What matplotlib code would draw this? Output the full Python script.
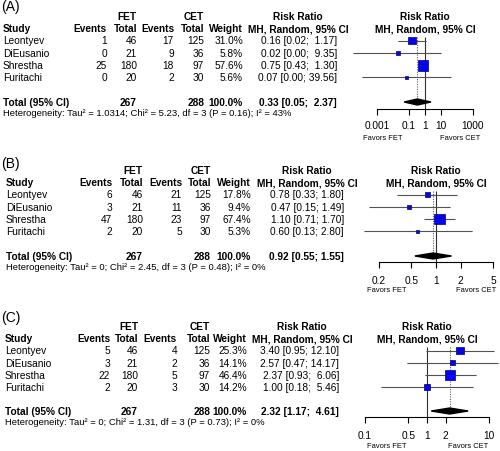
import numpy as np
import matplotlib
matplotlib.use("Agg")
import matplotlib.pyplot as plt
from matplotlib.ticker import NullLocator

plt.rcParams['font.family'] = ['Liberation Sans', 'DejaVu Sans']

# data
studies = ["Leontyev", "DiEusanio", "Shrestha", "Furitachi"]
fet_total = [46, 21, 180, 20]
cet_total = [125, 36, 97, 30]
sum_fet, sum_cet = 267, 288

fet_events_a = [1, 0, 25, 0]
cet_events_a = [17, 9, 18, 2]
weight_a = [31.0, 5.8, 57.6, 5.6]
rr_a = [0.16, 0.02, 0.75, 0.07]
lo_a = [0.02, 0.00003, 0.43, 0.00012]
hi_a = [1.17, 9.35, 1.30, 39.56]
pooled_a = [0.33, 0.05, 2.37]
het_a = "Heterogeneity: Tau² = 1.0314; Chi² = 5.23, df = 3 (P = 0.16); I² = 43%"

fet_events_b = [6, 3, 47, 2]
cet_events_b = [21, 11, 23, 5]
weight_b = [17.8, 9.4, 67.4, 5.3]
rr_b = [0.78, 0.47, 1.10, 0.60]
lo_b = [0.33, 0.15, 0.71, 0.13]
hi_b = [1.80, 1.49, 1.70, 2.80]
pooled_b = [0.92, 0.55, 1.55]
het_b = "Heterogeneity: Tau² = 0; Chi² = 2.45, df = 3 (P = 0.48); I² = 0%"

fet_events_c = [5, 3, 22, 2]
cet_events_c = [4, 2, 5, 3]
weight_c = [25.3, 14.1, 46.4, 14.2]
rr_c = [3.40, 2.57, 2.37, 1.00]
lo_c = [0.95, 0.47, 0.93, 0.18]
hi_c = [12.10, 14.17, 6.06, 5.46]
pooled_c = [2.32, 1.17, 4.61]
het_c = "Heterogeneity: Tau² = 0; Chi² = 1.31, df = 3 (P = 0.73); I² = 0%"

ticks_a = [0.001, 0.1, 1, 10, 1000]
ticklabels_a = ["0.001", "0.1", "1", "10", "1000"]
ticks_b = [0.2, 0.5, 1, 2, 5]
ticklabels_b = ["0.2", "0.5", "1", "2", "5"]
ticks_c = [0.1, 0.5, 1, 2, 10]
ticklabels_c = ["0.1", "0.5", "1", "2", "10"]

W, H = 500, 452
FS = 7.3
FS_HET = 6.8
FS_FAV = 5.4

fig = plt.figure(figsize=(W / 100, H / 100), dpi=100)
bg = fig.add_axes([0, 0, 1, 1])
bg.set_xlim(0, W)
bg.set_ylim(H, 0)
bg.axis('off')


def px_axes(left, top, right, bottom):
    return fig.add_axes([left / W, 1 - bottom / H, (right - left) / W, (bottom - top) / H])


def ci_text(est, lo, hi, width):
    return "%.2f [%.2f; %s]" % (est, lo, ("%.2f" % hi).rjust(width))


def panel(tag, tag_y, y0, step, cols, fet_ev, cet_ev, weight, rr, lo, hi, pooled, het,
          one_px, ppd, axis_y, ticks, ticklabels, pad, fav_y, fav_x, box_k):
    st, ev1, tot1, ev2, tot2, wt, rr_r, rr_h, fp_h = cols
    t = dict(va='center', fontsize=FS)
    b = dict(va='center', fontsize=FS, fontweight='bold')
    bg.text(1, tag_y, tag, va='center', fontsize=10)
    yh1, yh2 = y0 - 24.8, y0 - 12.3
    bg.text(tot1, yh1, "FET", ha='right', **b)
    bg.text(tot2, yh1, "CET", ha='right', **b)
    bg.text(rr_h, yh1, "Risk Ratio", ha='center', **b)
    bg.text(fp_h, yh1, "Risk Ratio", ha='center', **b)
    bg.text(st, yh2, "Study", ha='left', **b)
    bg.text(ev1, yh2, "Events", ha='right', **b)
    bg.text(tot1, yh2, "Total", ha='right', **b)
    bg.text(ev2, yh2, "Events", ha='right', **b)
    bg.text(tot2, yh2, "Total", ha='right', **b)
    bg.text(wt, yh2, "Weight", ha='right', **b)
    bg.text(rr_h, yh2, "MH, Random, 95% CI", ha='center', **b)
    bg.text(fp_h, yh2, "MH, Random, 95% CI", ha='center', **b)

    width = max(len("%.2f" % v) for v in hi + [pooled[2]])
    rows = y0 + step * np.arange(len(studies))
    for i, y in enumerate(rows):
        bg.text(st, y, studies[i], ha='left', **t)
        bg.text(ev1, y, str(fet_ev[i]), ha='right', **t)
        bg.text(tot1, y, str(fet_total[i]), ha='right', **t)
        bg.text(ev2, y, str(cet_ev[i]), ha='right', **t)
        bg.text(tot2, y, str(cet_total[i]), ha='right', **t)
        bg.text(wt, y, "%.1f%%" % weight[i], ha='right', **t)
        bg.text(rr_r, y, ci_text(rr[i], lo[i], hi[i], width), ha='right', **t)
    ty = y0 + step * 5
    bg.text(st, ty, "Total (95% CI)", ha='left', **b)
    bg.text(tot1, ty, str(sum_fet), ha='right', **b)
    bg.text(tot2, ty, str(sum_cet), ha='right', **b)
    bg.text(wt, ty, "100.0%", ha='right', **b)
    bg.text(rr_r, ty, ci_text(pooled[0], pooled[1], pooled[2], width), ha='right', **b)
    bg.text(st, ty + 11, het, ha='left', va='center', fontsize=FS_HET)

    # forest part
    left, right = 340, 500
    top, bottom = y0 - 10, fav_y + 8
    ax = px_axes(left, top, right, bottom)
    ax.set_xscale('log')
    ax.set_xlim(10 ** ((left - one_px) / ppd), 10 ** ((right - one_px) / ppd))
    ax.set_ylim(bottom, top)
    ax.patch.set_alpha(0)
    for s in ['top', 'left', 'right']:
        ax.spines[s].set_visible(False)
    ax.spines['bottom'].set_position(('data', axis_y))
    ax.spines['bottom'].set_bounds(ticks[0], ticks[-1])
    ax.spines['bottom'].set_linewidth(0.8)
    ax.set_yticks([])
    ax.set_xticks(ticks)
    ax.set_xticklabels(ticklabels, fontsize=FS)
    ax.xaxis.set_minor_locator(NullLocator())
    ax.tick_params(axis='x', direction='out', length=4, width=0.8, pad=pad)

    vtop = y0 - 4
    ax.vlines(1, vtop, axis_y, color='#303030', lw=0.8)
    ax.vlines(pooled[0], vtop, ty - 2, color='#606060', lw=0.8, linestyles=(0, (1, 1.2)))
    ax.hlines(rows, lo, hi, color='#6a6a6a', lw=0.8, zorder=2)
    ax.scatter(rr, rows, s=np.array(weight) * box_k, marker='s', facecolor='#0000ff',
               edgecolor='#00007a', linewidth=0.5, zorder=3)
    ax.hlines(rows, lo, hi, color='#303030', lw=0.5, zorder=4, alpha=0.6)
    dh = 3
    ax.fill([pooled[1], pooled[0], pooled[2], pooled[0]], [ty, ty - dh, ty, ty + dh],
            color='black', zorder=3)

    fav = dict(ha='center', va='center', fontsize=FS_FAV,
               family=['Liberation Sans Narrow', 'Liberation Sans'])
    bg.text(fav_x[0], fav_y, "Favors FET", **fav)
    bg.text(fav_x[1], fav_y, "Favors CET", **fav)


panel("(A)", 7, 41.5, 12.3, [3, 107, 137, 174, 204, 243, 337, 298, 425],
      fet_events_a, cet_events_a, weight_a, rr_a, lo_a, hi_a, pooled_a, het_a,
      425, 16, 110, ticks_a, ticklabels_a, 4, 139, (383, 460), 1.05)
panel("(B)", 164, 195.5, 12.3, [6, 112, 143, 182, 211, 251, 344, 307, 436],
      fet_events_b, cet_events_b, weight_b, rr_b, lo_b, hi_b, pooled_b, het_b,
      436, 81.5, 263, ticks_b, ticklabels_b, 5.5, 291, (387, 476), 0.85)
panel("(C)", 318, 351.5, 12.1, [5, 110, 138, 177, 210, 247, 339, 302, 427],
      fet_events_c, cet_events_c, weight_c, rr_c, lo_c, hi_c, pooled_c, het_c,
      427, 62, 418, ticks_c, ticklabels_c, 5.5, 447, (387, 468), 1.12)

fig.savefig("out.png", dpi=100)
